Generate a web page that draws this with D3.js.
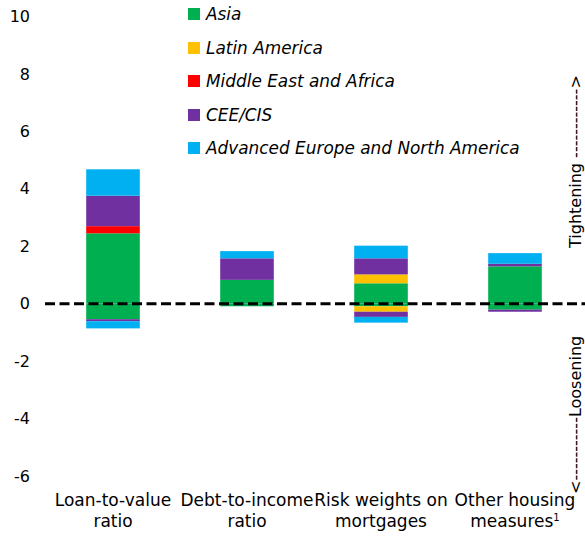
<!DOCTYPE html>
<html>
<head>
<meta charset="utf-8">
<script src="https://cdn.jsdelivr.net/npm/d3@7/dist/d3.min.js"></script>
<style>
  html, body { margin: 0; padding: 0; background: #fff; }
  svg { display: block; }
  text { font-family: "DejaVu Sans", Verdana, sans-serif; fill: #000; }
</style>
</head>
<body>
<svg id="chart" width="585" height="537"></svg>
<script>
// ---- Data ----
const categories = ["Loan-to-value ratio", "Debt-to-income ratio", "Risk weights on mortgages", "Other housing measures"];
const categoryLines = [["Loan-to-value", "ratio"], ["Debt-to-income", "ratio"], ["Risk weights on", "mortgages"], ["Other housing", "measures"]];
const seriesNames = ["Asia", "Latin America", "Middle East and Africa", "CEE/CIS", "Advanced Europe and North America"];
const seriesColors = ["#00B050", "#FFC000", "#FF0000", "#7030A0", "#00B0F0"];

// Tightening (positive) contributions per category
const asiaTight   = [2.45, 0.83, 0.71, 1.30];
const latamTight  = [0.00, 0.00, 0.31, 0.00];
const meaTight    = [0.25, 0.00, 0.00, 0.00];
const ceeTight    = [1.06, 0.75, 0.56, 0.09];
const advTight    = [0.92, 0.25, 0.44, 0.37];
// Loosening (negative) contributions per category
const asiaLoose   = [-0.54, -0.09, -0.09, -0.21];
const latamLoose  = [0.00, 0.00, -0.19, 0.00];
const meaLoose    = [0.00, 0.00, 0.00, 0.00];
const ceeLoose    = [-0.07, 0.00, -0.18, -0.07];
const advLoose    = [-0.25, 0.00, -0.20, 0.00];

const yTicks = [-6, -4, -2, 0, 2, 4, 6, 8, 10];
const yTickLabels = ["-6", "-4", "-2", "0", "2", "4", "6", "8", "10"];

// ---- Build tables ----
const tightSeries = [asiaTight, latamTight, meaTight, ceeTight, advTight];
const looseSeries = [asiaLoose, latamLoose, meaLoose, ceeLoose, advLoose];
function table(seriesArr) {
  return categories.map((c, i) => {
    const row = { category: c };
    seriesNames.forEach((s, j) => row[s] = seriesArr[j][i]);
    return row;
  });
}
const stack = d3.stack().keys(seriesNames).offset(d3.stackOffsetDiverging);
const tightStack = stack(table(tightSeries));
const looseStack = stack(table(looseSeries));

// ---- Layout ----
const svg = d3.select("#chart");
const x = d3.scaleBand().domain(categories).range([46, 582]).paddingInner(0.6).paddingOuter(0.3);
const y = d3.scaleLinear().domain([-6, 10]).range([476, 16.5]);

// Y axis labels
const yAxis = d3.axisLeft(y).tickValues(yTicks).tickSize(0).tickPadding(0)
  .tickFormat((d, i) => yTickLabels[i]);
const yg = svg.append("g").attr("transform", "translate(30,0)").call(yAxis);
yg.select(".domain").remove();
yg.selectAll("text").style("font-size", "16px").style("font-family", '"DejaVu Sans", sans-serif').attr("fill", "#000");

// Bars
function drawStack(st) {
  svg.append("g").selectAll("g").data(st).join("g")
    .attr("fill", (d, i) => seriesColors[i])
    .selectAll("rect").data(d => d).join("rect")
    .attr("x", d => x(d.data.category))
    .attr("width", x.bandwidth())
    .attr("y", d => y(Math.max(d[0], d[1])))
    .attr("height", d => Math.abs(y(d[0]) - y(d[1])));
}
drawStack(tightStack);
drawStack(looseStack);

// Zero line
svg.append("line")
  .attr("x1", 45).attr("x2", 585)
  .attr("y1", y(0)).attr("y2", y(0))
  .attr("stroke", "#000").attr("stroke-width", 3)
  .attr("stroke-dasharray", "10,4.5");

// X labels
const xl = svg.append("g");
categories.forEach((c, i) => {
  const cx = x(c) + x.bandwidth() / 2;
  const t = xl.append("text").attr("text-anchor", "middle").style("font-size", "17px");
  t.append("tspan").attr("x", cx).attr("y", 506).text(categoryLines[i][0]);
  const t2 = t.append("tspan").attr("x", cx).attr("y", 527).text(categoryLines[i][1]);
  if (i === 3) {
    t2.append("tspan").attr("dy", -6).style("font-size", "10px").text("1");
  }
});

// Legend
const lg = svg.append("g");
const legendY = [14, 48, 81, 115, 148];
seriesNames.forEach((s, i) => {
  lg.append("rect").attr("x", 188).attr("y", legendY[i] - 6).attr("width", 12).attr("height", 12).attr("fill", seriesColors[i]);
  lg.append("text").attr("x", 206).attr("y", legendY[i] + 6)
    .style("font-size", "16.9px").style("font-style", "italic").text(s);
});

// Right side annotations
svg.append("text").attr("transform", `translate(581,248) rotate(-90)`)
  .style("font-size", "16px").text("Tightening ------------>");
svg.append("text").attr("transform", `translate(581,494) rotate(-90)`)
  .style("font-size", "16px").text("<-----------Loosening");
</script>
</body>
</html>
